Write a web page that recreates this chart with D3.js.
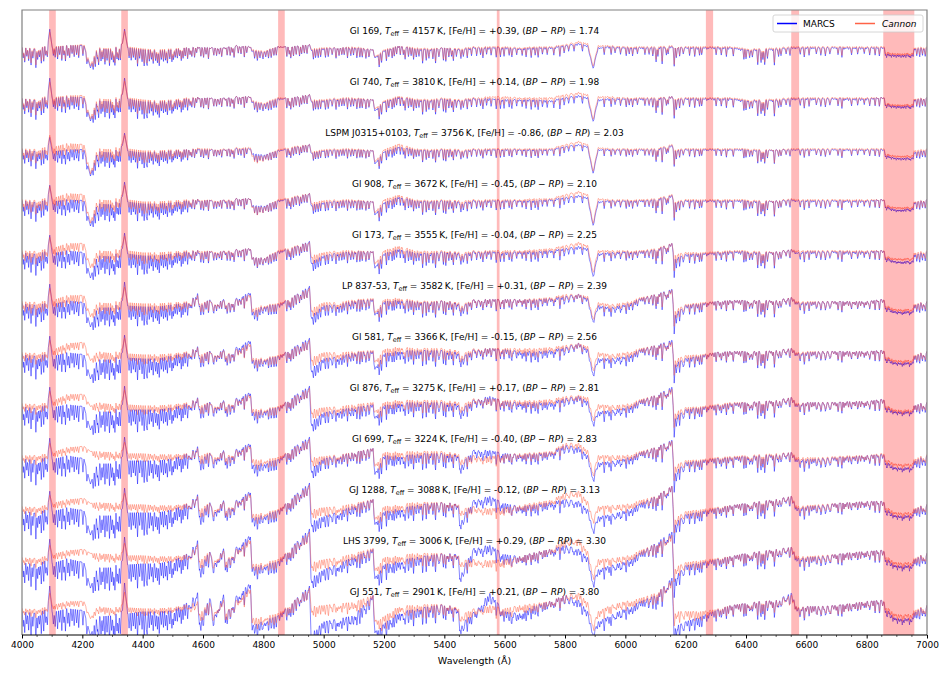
<!DOCTYPE html>
<html>
<head>
<meta charset="utf-8">
<script src="https://cdn.jsdelivr.net/npm/d3@7"></script>
<style>
body { margin: 0; background: #fff; }
text { font-family: "DejaVu Sans", sans-serif; }
</style>
</head>
<body>
<script>
// stars, top to bottom
const STAR_NAMES = ["Gl 169", "Gl 740", "LSPM J0315+0103", "Gl 908", "Gl 173", "LP 837-53",
    "Gl 581", "Gl 876", "Gl 699", "GJ 1288", "LHS 3799", "GJ 551"];
const TEFF = [4157, 3810, 3756, 3672, 3555, 3582, 3366, 3275, 3224, 3088, 3006, 2901];
const FEH = ["+0.39", "+0.14", "-0.86", "-0.45", "-0.04", "+0.31", "-0.15", "+0.17", "-0.40", "-0.12", "+0.29", "+0.21"];
const BPRP = ["1.74", "1.98", "2.03", "2.10", "2.25", "2.39", "2.56", "2.81", "2.83", "3.13", "3.30", "3.80"];

// masked wavelength ranges (Å)
const MASKS = [[4090, 4112], [4329, 4351], [4849, 4871], [5574, 5583], [6267, 6291], [6550, 6576], [6855, 6958]];

const X_MAJOR = [4000, 4200, 4400, 4600, 4800, 5000, 5200, 5400, 5600, 5800, 6000, 6200, 6400, 6600, 6800, 7000];

// wavelengths where the broad shape of each spectrum was read (Å)
const KNOT_WL = [
    4000, 4050, 4085, 4092, 4100, 4150, 4205, 4227, 4250, 4300,
    4333, 4340, 4350, 4400, 4450, 4500, 4550, 4582, 4588, 4625,
    4631, 4668, 4674, 4710, 4757, 4763, 4800, 4850, 4900, 4953,
    4958, 5000, 5050, 5100, 5164, 5170, 5200, 5250, 5300, 5350,
    5400, 5445, 5451, 5500, 5550, 5600, 5650, 5700, 5750, 5800,
    5845, 5875, 5893, 5910, 5950, 6000, 6050, 6100, 6155, 6162,
    6200, 6250, 6300, 6350, 6400, 6450, 6500, 6550, 6570, 6600,
    6650, 6700, 6750, 6800, 6850, 6900, 6950, 7000];

// broad normalised flux (%) at KNOT_WL, MARCS models
const MARCS_FLUX = [
    [100,98,102,118,100,102,102,80,99,98, 104,118,100,98,97,98,100,101,100,100, 100,100,100,102,101,97,96,101,101,103, 98,99,100,100,98,90,97,102,99,98, 100,99,98,100,100,100,99,100,100,102, 104,102,80,100,101,100,100,100,101,100, 100,100,100,100,98,98,99,100,100,100, 100,100,100,100,100,99,99,100],
    [100,98,102,120,100,102,101,78,98,97, 104,120,100,97,97,98,100,102,100,101, 100,101,100,102,102,97,95,100,101,104, 98,98,100,100,99,88,97,102,99,98, 100,99,98,100,100,99,99,99,98,101, 103,101,78,99,100,100,100,100,102,99, 100,100,100,100,98,98,99,100,100,100, 100,100,100,100,101,99,99,101],
    [100,98,100,112,98,100,100,74,98,97, 104,116,99,97,98,99,100,101,100,100, 100,100,100,101,101,96,95,99,102,105, 97,99,100,100,99,86,98,103,100,99, 100,100,98,100,100,100,100,100,100,103, 105,103,77,100,100,100,100,100,104,99, 100,100,100,100,100,99,100,100,100,100, 100,100,100,100,100,97,97,100],
    [100,98,101,115,99,101,100,75,97,96, 104,118,99,97,97,98,100,102,99,101, 99,101,99,102,102,95,95,100,103,107, 96,98,100,100,99,86,98,104,100,99, 100,100,97,100,100,100,100,100,101,103, 105,103,76,99,100,100,100,101,105,98, 100,100,100,100,100,99,100,101,100,100, 100,100,100,100,101,97,98,101],
    [99,97,101,116,98,101,99,74,96,95, 103,118,98,96,96,98,100,102,98,101, 99,101,99,102,103,94,94,100,104,110, 90,96,99,100,100,84,98,103,99,98, 100,100,96,100,100,99,100,100,101,103, 105,103,76,98,99,100,100,102,108,93, 97,98,99,100,100,99,100,102,99,100, 100,100,100,100,101,97,97,100],
    [99,97,100,118,98,102,100,76,95,95, 102,120,97,96,96,98,100,110,96,104, 97,104,97,104,110,90,97,98,106,116, 87,97,98,102,103,88,101,103,101,100, 102,101,95,103,103,103,103,103,104,106, 108,104,82,97,95,98,104,108,113,88, 97,99,101,102,102,102,102,105,100,100, 101,101,101,101,103,98,98,101],
    [99,97,100,117,97,101,99,75,94,94, 101,118,96,95,95,98,101,108,95,104, 97,105,96,106,113,93,95,97,106,115, 85,95,97,101,102,85,100,103,103,103, 103,103,95,104,105,104,102,102,103,106, 110,104,80,95,95,97,104,108,113,90, 95,98,101,102,102,102,103,105,100,101, 102,102,102,102,103,98,98,102],
    [98,96,100,117,97,100,98,75,93,93, 100,118,95,95,95,97,101,108,95,104, 96,105,96,106,112,92,95,97,108,118, 83,92,95,97,100,87,99,102,102,102, 102,103,94,105,108,103,102,102,102,106, 108,103,82,93,94,97,104,109,117,87, 95,97,99,101,102,103,104,107,100,102, 102,102,103,103,105,100,100,102],
    [97,95,99,117,96,100,97,72,92,92, 99,118,95,95,95,97,102,110,94,104, 95,106,95,106,112,90,93,96,108,118, 87,97,100,103,107,82,100,100,101,102, 102,103,90,106,105,102,101,102,103,110, 108,100,77,93,94,97,103,108,115,83, 93,95,97,98,99,100,101,103,96,96, 97,98,99,100,101,95,95,100],
    [96,93,98,115,95,99,96,72,91,91, 98,118,94,94,94,97,103,113,90,106, 93,107,94,106,115,88,92,96,110,123, 85,90,95,101,107,83,95,98,101,103, 104,105,85,107,110,103,100,102,104,107, 105,97,77,90,92,96,103,110,120,83, 92,95,98,101,103,105,107,110,98,100, 101,103,104,105,105,98,98,102],
    [95,93,98,118,94,99,95,70,90,90, 97,120,93,94,94,97,104,118,88,108, 92,110,93,110,122,90,93,96,112,128, 80,88,94,101,108,80,93,97,100,102, 104,106,83,110,112,103,101,105,108,112, 108,100,75,88,92,96,105,114,125,80, 92,95,98,101,104,106,108,110,99,100, 101,103,105,106,107,99,99,104],
    [97,95,100,122,96,100,98,73,92,93, 98,125,95,97,97,98,106,117,85,113, 90,115,92,112,125,83,88,93,107,122, 75,87,90,93,113,77,85,97,99,102, 104,103,83,97,115,97,95,103,107,113, 108,97,75,87,93,100,107,113,130,82, 87,92,98,103,105,107,108,115,100,102, 102,103,105,107,108,97,97,103]
];

// broad normalised flux (%) at KNOT_WL, Cannon model
const CANNON_FLUX = [
    [100,99,102,115,101,102,103,82,100,99, 104,116,101,99,98,99,100,101,100,100, 100,100,100,102,101,98,97,101,101,103, 99,100,100,101,98,91,98,102,100,99, 100,100,99,101,101,101,100,101,101,103, 106,104,82,102,102,101,101,101,102,100, 101,101,101,101,99,99,100,101,101,101, 101,101,101,101,101,100,100,101],
    [100,99,103,116,101,103,103,80,100,99, 105,117,101,99,98,99,101,102,100,101, 100,101,100,102,102,98,96,101,101,104, 99,99,101,101,99,90,98,103,100,99, 101,100,99,101,102,102,101,101,101,104, 106,104,80,102,102,101,101,101,102,100, 101,101,101,101,99,99,100,101,101,101, 101,101,101,101,101,100,100,101],
    [101,100,103,114,102,106,105,76,101,100, 106,114,101,99,99,100,100,102,101,101, 100,101,100,102,102,94,94,100,103,105, 98,100,101,101,99,88,100,106,101,100, 101,101,99,101,101,101,101,101,101,105, 108,105,79,102,101,101,101,101,105,100, 101,101,101,101,101,100,100,101,101,101, 101,101,101,101,101,99,99,101],
    [101,100,103,114,102,107,106,78,101,100, 106,115,101,99,99,100,101,102,100,101, 100,101,100,102,102,94,94,101,104,107, 98,100,101,101,99,88,101,106,101,100, 101,101,99,101,101,101,101,102,102,106, 109,106,78,102,101,101,101,102,106,99, 101,101,101,101,101,100,100,102,101,101, 101,101,101,101,101,99,99,101],
    [101,100,103,114,103,108,108,84,101,100, 106,115,101,99,99,100,101,102,100,101, 100,101,100,102,103,94,94,101,105,109, 96,99,101,101,100,88,101,106,101,100, 101,101,98,101,101,101,101,102,103,106, 109,106,80,101,101,101,101,103,108,97, 99,99,100,101,101,100,100,102,101,101, 101,101,101,101,101,99,99,101],
    [101,100,102,114,102,107,107,86,100,99, 105,115,100,99,99,100,101,108,98,103, 98,103,98,103,108,93,98,99,106,114, 94,100,100,103,104,90,103,105,102,101, 102,102,97,103,103,103,103,104,105,108, 108,106,85,100,98,100,105,108,112,92, 98,100,101,102,102,102,102,105,101,101, 101,101,101,101,103,99,99,101],
    [101,100,102,113,103,110,111,93,102,100, 105,115,100,99,99,100,102,107,98,103, 98,104,98,104,110,95,96,98,105,113, 96,101,101,102,103,92,104,107,105,105, 105,105,98,105,105,105,105,105,106,108, 110,107,85,101,99,101,105,108,111,94, 98,99,101,102,102,102,103,105,101,102, 102,102,102,102,103,99,99,102],
    [101,100,102,113,103,110,110,98,102,100, 104,114,100,99,99,100,102,107,98,103, 98,104,98,105,110,95,96,98,107,116, 95,97,98,100,102,93,102,105,104,104, 104,105,98,106,106,104,104,104,105,108, 109,107,87,100,99,100,105,109,115,92, 97,98,100,102,102,103,104,107,101,102, 102,102,103,103,105,100,100,102],
    [100,100,102,112,103,108,109,104,104,103, 105,113,102,102,101,101,102,108,99,104, 98,105,98,105,110,96,96,98,107,116, 98,99,101,103,107,90,103,104,104,104, 104,104,97,100,99,101,102,103,104,112, 112,105,82,100,100,100,104,108,114,90, 95,96,98,99,100,101,102,103,98,98, 98,99,100,100,102,97,97,101],
    [100,99,102,111,103,107,108,103,104,103, 105,113,102,102,101,101,103,111,96,105, 96,106,96,105,113,92,94,97,109,121, 97,99,100,103,107,88,100,102,104,104, 104,105,97,100,98,99,101,104,106,113, 115,105,87,100,101,102,106,110,120,88, 95,97,99,101,103,105,107,110,100,101, 102,103,104,105,105,99,99,102],
    [100,99,102,112,103,107,108,104,104,103, 105,114,102,102,101,101,103,114,96,107, 96,108,96,108,118,93,95,98,111,125, 95,98,100,104,109,88,100,102,104,104, 104,105,97,98,97,98,101,105,108,117, 118,106,82,98,99,101,107,113,122,90, 95,97,99,101,104,106,108,110,101,101, 102,103,105,106,107,100,100,104],
    [100,99,102,115,103,107,107,90,102,100, 104,116,101,100,100,101,104,108,94,108, 95,110,95,108,120,90,92,95,107,120, 102,103,105,106,113,88,92,103,103,104, 104,104,93,100,103,100,103,105,107,113, 115,106,83,97,103,107,110,115,127,97, 97,97,99,103,105,107,108,113,101,102, 102,103,105,107,108,99,99,103]
];

// narrow absorption features: [wavelength Å, depth %]
const LINES_BLUE = [
    [4004,10],[4009,14],[4016,8],[4022,12],[4030,16],[4036,9],[4046,18],[4052,10],[4058,8],[4064,15],
    [4072,14],[4079,9],[4084,11],[4104,8],[4110,10],[4118,12],[4125,8],[4132,14],[4139,9],[4144,15],
    [4152,10],[4158,12],[4166,8],[4173,11],[4181,9],[4188,12],[4202,10],[4215,8],[4236,9],[4243,12],
    [4250,10],[4254,16],[4262,12],[4268,10],[4275,15],[4282,11],[4290,16],[4297,10],[4303,13],[4308,17],
    [4315,12],[4320,14],[4326,15],[4355,10],[4362,12],[4369,9],[4376,11],[4383,17],[4390,9],[4398,12],
    [4405,16],[4412,10],[4415,14],[4422,11],[4429,9],[4435,13],[4443,10],[4449,12],[4455,15],[4462,9],
    [4469,11],[4476,10],[4482,13],[4490,9],[4497,12],[4502,10],[4508,8],[4515,9],[4522,7],[4528,12],
    [4534,10],[4541,8],[4549,11]
];
const LINES_RED = [
    [4557,7],[4563,9],[4572,10],[4579,6],[4593,8],[4602,9],[4610,6],[4618,10],[4636,7],[4645,8],
    [4654,6],[4662,9],[4680,7],[4690,8],[4697,6],[4703,11],[4717,7],[4726,8],[4737,9],[4745,6],
    [4771,7],[4780,8],[4789,6],[4799,7],[4808,6],[4817,7],[4826,8],[4835,6],[4843,7],[4878,9],
    [4886,7],[4891,11],[4900,8],[4909,7],[4920,10],[4927,8],[4936,7],[4945,8],[4966,9],[4973,7],
    [4982,8],[4990,7],[5006,8],[5015,7],[5028,6],[5041,10],[5051,8],[5060,6],[5068,7],[5079,9],
    [5090,8],[5099,7],[5110,9],[5120,7],[5128,8],[5140,9],[5150,7],[5184,12],[5192,8],[5208,9],
    [5216,7],[5227,10],[5234,8],[5242,7],[5254,9],[5264,8],[5270,12],[5281,8],[5290,7],[5298,9],
    [5307,8],[5316,7],[5328,13],[5340,9],[5349,8],[5362,9],[5371,13],[5382,8],[5397,12],[5405,13],
    [5415,9],[5424,8],[5430,11],[5440,8],[5455,9],[5463,7],[5476,8],[5490,7],[5507,8],[5520,7],
    [5528,10],[5540,6],[5555,7],[5572,8],[5586,9],[5598,8],[5615,7],[5624,8],[5640,6],[5658,7],
    [5671,8],[5688,9],[5701,7],[5711,9],[5725,6],[5741,7],[5763,8],[5783,9],[5797,7],[5812,6],
    [5830,7],[5858,6],[5930,6],[5953,7],[5966,6],[5984,7],[6003,7],[6013,6],[6024,8],[6040,6],
    [6065,7],[6079,6],[6091,7],[6102,14],[6108,8],[6122,16],[6136,8],[6142,7],[6162,18],[6169,10],
    [6180,7],[6192,6],[6213,7],[6230,8],[6246,7],[6253,6],[6301,6],[6318,7],[6335,8],[6358,7],
    [6393,9],[6400,8],[6412,8],[6421,7],[6439,14],[6450,12],[6456,9],[6462,14],[6471,9],[6494,16],
    [6508,8],[6516,7],[6533,6],[6546,7],[6580,6],[6593,8],[6609,7],[6633,6],[6648,7],[6663,8],
    [6678,6],[6705,6],[6718,9],[6750,7],[6770,6],[6792,6],[6810,7],[6828,6],[6842,7],
    [6862,7],[6866,9],[6870,6],[6874,8],[6878,7],[6882,9],[6886,6],[6890,8],[6894,7],[6898,9],
    [6902,6],[6906,8],[6910,7],[6914,9],[6918,6],[6922,8],[6926,7],[6930,9],[6934,6],[6938,8],
    [6942,7],[6946,9],[6950,6],[6954,8],[6966,7],[6976,8],[6985,7],[6994,8]
];

// weak molecular features that roughen the traces redward of 4550 Å: [wavelength Å, depth %]
const LINES_WEAK = [
    [4553,4],[4560,6],[4569,3],[4575,5],[4585,4],[4593,2],[4600,6],[4611,3],[4619,5],[4625,4],
    [4634,5],[4641,3],[4650,6],[4656,4],[4666,3],[4674,5],[4681,4],[4692,6],[4700,3],[4706,5],
    [4715,3],[4722,5],[4731,4],[4737,6],[4747,3],[4755,4],[4762,5],[4773,3],[4781,6],[4787,4],
    [4796,6],[4803,4],[4812,3],[4818,5],[4828,4],[4836,6],[4843,3],[4854,5],[4862,4],[4868,3],
    [4877,4],[4884,5],[4893,3],[4899,6],[4909,4],[4917,3],[4924,5],[4935,4],[4943,6],[4949,3],
    [4961,5],[4965,3],[4974,6],[4980,4],[4990,3],[4998,5],[5005,4],[5016,6],[5024,3],[5030,5],
    [5039,3],[5046,6],[5055,4],[5061,5],[5071,3],[5079,4],[5086,6],[5097,3],[5105,5],[5111,4],
    [5120,6],[5127,3],[5136,5],[5142,4],[5152,6],[5160,3],[5167,5],[5178,4],[5186,3],[5192,6],
    [5201,4],[5208,6],[5217,3],[5223,5],[5233,4],[5241,3],[5248,6],[5259,4],[5267,5],[5273,3],
    [5282,5],[5289,3],[5298,6],[5304,4],[5314,3],[5322,5],[5329,4],[5340,6],[5348,3],[5354,5],
    [5363,3],[5370,5],[5379,4],[5385,6],[5395,3],[5403,4],[5410,5],[5421,3],[5429,6],[5435,4],
    [5444,6],[5451,4],[5460,3],[5466,5],[5476,4],[5484,6],[5491,3],[5502,5],[5510,4],[5516,3],
    [5525,4],[5532,5],[5541,3],[5547,6],[5557,4],[5565,3],[5572,5],[5583,4],[5591,6],[5597,3],
    [5606,5],[5613,3],[5622,6],[5628,4],[5638,3],[5646,5],[5653,4],[5664,6],[5672,3],[5678,5],
    [5687,3],[5694,6],[5703,4],[5709,5],[5719,3],[5727,4],[5734,6],[5745,3],[5753,5],[5759,4],
    [5768,6],[5775,3],[5784,5],[5790,4],[5800,6],[5808,3],[5815,5],[5826,4],[5834,3],[5840,6],
    [5849,4],[5856,6],[5865,3],[5871,5],[5881,4],[5889,3],[5896,6],[5907,4],[5915,5],[5921,3],
    [5930,5],[5937,3],[5946,6],[5952,4],[5962,3],[5970,5],[5977,4],[5988,6],[5996,3],[6002,5],
    [6011,3],[6018,5],[6027,4],[6033,6],[6043,3],[6051,4],[6058,5],[6069,3],[6077,6],[6083,4],
    [6092,6],[6099,4],[6108,3],[6114,5],[6124,4],[6132,6],[6139,3],[6150,5],[6158,4],[6164,3],
    [6173,4],[6180,5],[6189,3],[6195,6],[6205,4],[6213,3],[6220,5],[6231,4],[6239,6],[6245,3],
    [6254,5],[6261,3],[6270,6],[6276,4],[6286,3],[6294,5],[6301,4],[6312,6],[6320,3],[6326,5],
    [6335,3],[6342,6],[6351,4],[6357,5],[6367,3],[6375,4],[6382,6],[6393,3],[6401,5],[6407,4],
    [6416,6],[6423,3],[6432,5],[6438,4],[6448,6],[6456,3],[6463,5],[6474,4],[6482,3],[6488,6],
    [6497,4],[6504,6],[6513,3],[6519,5],[6529,4],[6537,3],[6544,6],[6555,4],[6563,5],[6569,3],
    [6578,5],[6585,3],[6594,6],[6600,4],[6610,3],[6618,5],[6625,4],[6636,6],[6644,3],[6650,5],
    [6659,3],[6666,5],[6675,4],[6681,6],[6691,3],[6699,4],[6706,5],[6717,3],[6725,6],[6731,4],
    [6740,6],[6747,4],[6756,3],[6762,5],[6772,4],[6780,6],[6787,3],[6798,5],[6806,4],[6812,3],
    [6821,4],[6828,5],[6837,3],[6843,6],[6853,4],[6861,3],[6868,5],[6879,4],[6887,6],[6893,3],
    [6902,5],[6909,3],[6918,6],[6924,4],[6934,3],[6942,5],[6949,4],[6960,6],[6968,3],[6974,5],
    [6983,3],[6990,6],[6996,4]
];

// how strongly the narrow features show in each trace (blue part < 4550 Å, rest, weak list)
const MARCS_BLUE_SCALE = [1.0, 1.05, 0.95, 1.05, 1.15, 1.15, 1.25, 1.3, 1.35, 1.4, 1.4, 1.45];
const MARCS_RED_SCALE = [1.0, 1.0, 0.85, 0.95, 1.0, 1.0, 1.0, 1.0, 1.0, 1.0, 1.0, 1.0];
const CANNON_BLUE_SCALE = [0.9, 0.85, 0.75, 0.75, 0.7, 0.7, 0.6, 0.55, 0.5, 0.5, 0.5, 0.45];
const CANNON_RED_SCALE = [0.9, 0.9, 0.8, 0.85, 0.85, 0.8, 0.8, 0.75, 0.75, 0.7, 0.7, 0.7];
const WEAK_SCALE = [0.3, 0.35, 0.25, 0.35, 0.5, 0.7, 0.8, 0.9, 0.9, 1.0, 1.1, 1.2];

const OFFSET = 50; // vertical shift between stars, % flux
const HW = 3.5;    // half width of a feature, Å

const W = 949, H = 678;
const margin = {top: 10, right: 22, bottom: 43, left: 22};

const svg = d3.select("body").append("svg")
    .attr("width", W)
    .attr("height", H);

const x = d3.scaleLinear().domain([4000, 7000]).range([margin.left, W - margin.right]);
const y = d3.scaleLinear().domain([-476, 136.8]).range([H - margin.bottom, margin.top]);

svg.append("clipPath").attr("id", "plotclip")
    .append("rect")
    .attr("x", x(4000)).attr("y", margin.top)
    .attr("width", x(7000) - x(4000)).attr("height", H - margin.bottom - margin.top);

const strongLines = LINES_BLUE.concat(LINES_RED);

function spectrum(broad, sBlue, sRed, sWeak) {
    const broadAt = d3.scaleLinear().domain(KNOT_WL).range(broad);
    const wset = new Set(KNOT_WL);
    strongLines.concat(LINES_WEAK).forEach(([c]) => { wset.add(c - HW); wset.add(c); wset.add(c + HW); });
    const wl = Array.from(wset).filter(w => w >= 4000 && w <= 7000).sort((a, b) => a - b);
    return wl.map(w => {
        let f = broadAt(w);
        strongLines.forEach(([c, d]) => {
            const t = 1 - Math.abs(w - c) / HW;
            if (t > 0) f -= d * (c < 4550 ? sBlue : sRed) * t;
        });
        LINES_WEAK.forEach(([c, d]) => {
            const t = 1 - Math.abs(w - c) / HW;
            if (t > 0) f -= d * sWeak * t;
        });
        return [w, f];
    });
}

const plot = svg.append("g").attr("clip-path", "url(#plotclip)");

STAR_NAMES.forEach((name, i) => {
    const line = d3.line()
        .x(d => x(d[0]))
        .y(d => y(d[1] - OFFSET * i));

    plot.append("path")
        .datum(spectrum(MARCS_FLUX[i], MARCS_BLUE_SCALE[i], MARCS_RED_SCALE[i], WEAK_SCALE[i]))
        .attr("d", line)
        .attr("fill", "none")
        .attr("stroke", "#0000ff")
        .attr("stroke-width", 0.6)
        .attr("stroke-opacity", 0.8);

    plot.append("path")
        .datum(spectrum(CANNON_FLUX[i], CANNON_BLUE_SCALE[i], CANNON_RED_SCALE[i], WEAK_SCALE[i]))
        .attr("d", line)
        .attr("fill", "none")
        .attr("stroke", "#ff6347")
        .attr("stroke-width", 0.6)
        .attr("stroke-opacity", 0.8);
});

// masked regions
svg.selectAll(".mask")
    .data(MASKS)
    .enter()
    .append("rect")
    .attr("class", "mask")
    .attr("x", d => x(d[0]))
    .attr("width", d => x(d[1]) - x(d[0]))
    .attr("y", margin.top)
    .attr("height", H - margin.bottom - margin.top)
    .attr("fill", "#ff0000")
    .attr("fill-opacity", 0.27);

// star labels
STAR_NAMES.forEach((name, i) => {
    const t = svg.append("text")
        .attr("x", x(5500))
        .attr("y", y(100 - OFFSET * i + 13.5))
        .attr("text-anchor", "middle")
        .attr("font-size", 9)
        .attr("fill", "#000");
    t.append("tspan").text(name + ", ");
    t.append("tspan").attr("font-style", "italic").text("T");
    t.append("tspan").attr("font-size", 6.5).attr("dy", 2).text("eff");
    t.append("tspan").attr("dy", -2).text(" = " + TEFF[i] + "\u2009K, [Fe/H] = " + FEH[i] + ", (");
    t.append("tspan").attr("font-style", "italic").text("BP");
    t.append("tspan").text(" \u2212 ");
    t.append("tspan").attr("font-style", "italic").text("RP");
    t.append("tspan").text(") = " + BPRP[i]);
});

// x axis
const xAxis = svg.append("g")
    .attr("transform", `translate(0,${H - margin.bottom})`)
    .call(d3.axisBottom(x).tickValues(X_MAJOR).tickFormat(d3.format("d")).tickSize(3.5).tickPadding(3));
xAxis.select(".domain").remove();
xAxis.selectAll("text").attr("font-size", 9).attr("font-family", "DejaVu Sans");

svg.append("g")
    .attr("transform", `translate(0,${H - margin.bottom})`)
    .selectAll("line")
    .data(d3.range(4050, 7000, 50).filter(d => d % 200 !== 0))
    .enter()
    .append("line")
    .attr("x1", d => x(d)).attr("x2", d => x(d))
    .attr("y1", 0).attr("y2", 2)
    .attr("stroke", "#000")
    .attr("stroke-width", 0.6);

svg.append("text")
    .attr("x", x(5500))
    .attr("y", H - 14)
    .attr("text-anchor", "middle")
    .attr("font-size", 9.5)
    .text("Wavelength (\u00c5)");

// frame
const x0 = x(4000), x1 = x(7000), y0 = margin.top, y1 = H - margin.bottom;
svg.append("path").attr("d", `M${x0},${y1}V${y0}H${x1}V${y1}`)
    .attr("fill", "none").attr("stroke", "#808080").attr("stroke-width", 1.2);
svg.append("line").attr("x1", x0).attr("x2", x1).attr("y1", y1).attr("y2", y1)
    .attr("stroke", "#000").attr("stroke-width", 1);

// legend
const lg = svg.append("g").attr("transform", `translate(${x1 - 154},${y0 + 5})`);
lg.append("rect").attr("width", 150).attr("height", 17).attr("rx", 2)
    .attr("fill", "#fff").attr("fill-opacity", 0.8)
    .attr("stroke", "#cccccc").attr("stroke-width", 0.8);
lg.append("line").attr("x1", 4).attr("x2", 24).attr("y1", 8.5).attr("y2", 8.5)
    .attr("stroke", "#0000ff").attr("stroke-width", 1.5);
lg.append("text").attr("x", 30).attr("y", 12).attr("font-size", 9).text("MARCS");
lg.append("line").attr("x1", 82).attr("x2", 102).attr("y1", 8.5).attr("y2", 8.5)
    .attr("stroke", "#ff6347").attr("stroke-width", 1.5);
lg.append("text").attr("x", 109).attr("y", 12).attr("font-size", 9)
    .attr("font-style", "italic").text("Cannon");
</script>
</body>
</html>
